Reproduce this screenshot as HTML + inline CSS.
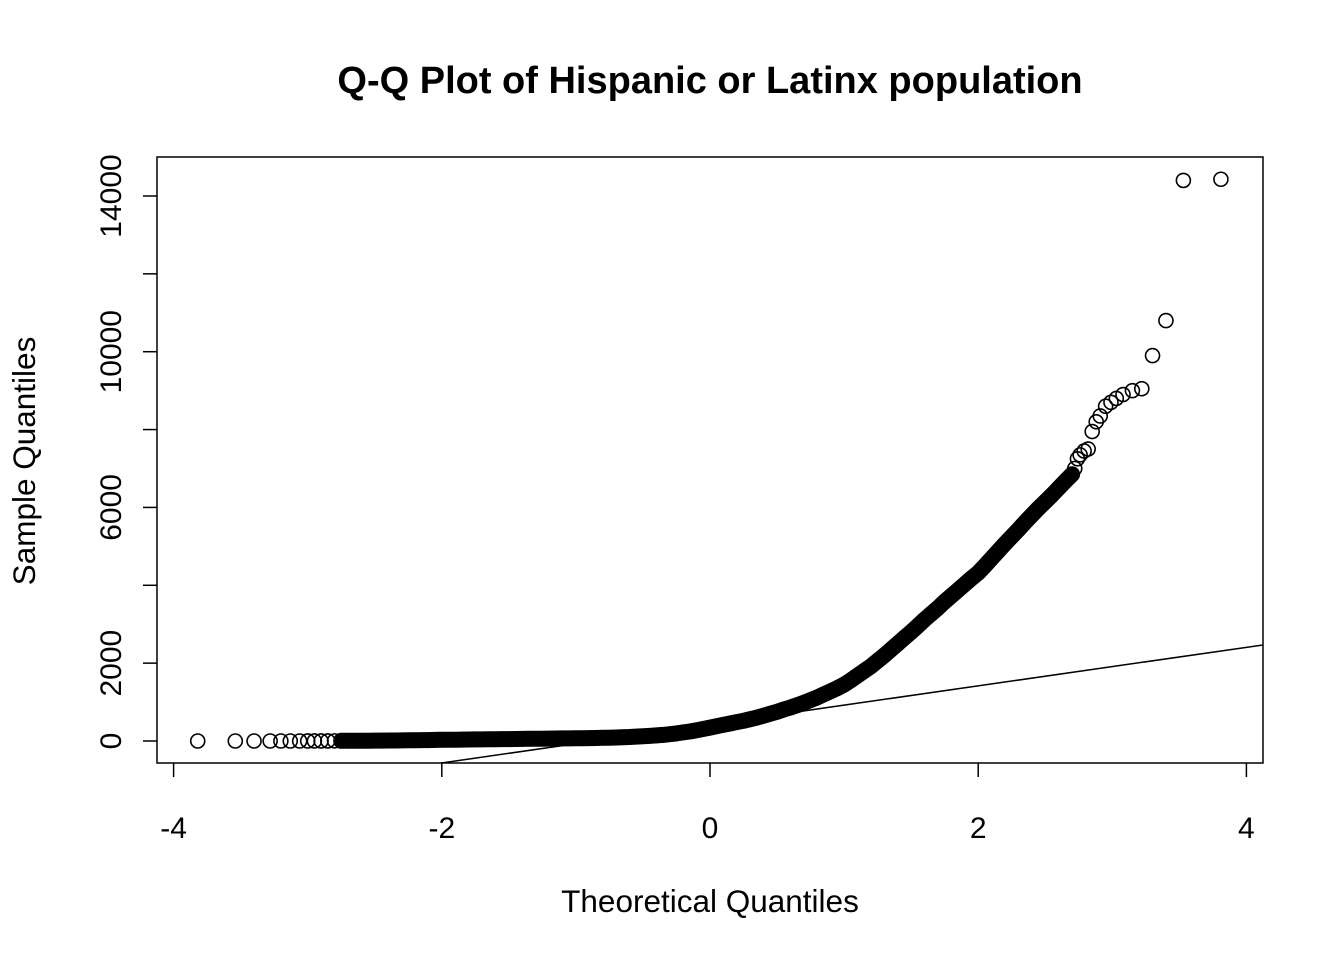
<!DOCTYPE html>
<html><head><meta charset="utf-8"><style>
html,body{margin:0;padding:0;background:#fff;}
svg text{font-family:"Liberation Sans",Arial,sans-serif;fill:#000;}
</style></head><body>
<svg id="chart" width="1344" height="960" viewBox="0 0 1344 960" xmlns="http://www.w3.org/2000/svg">
<rect width="1344" height="960" fill="#fff"/>
<text x="710" y="93" font-size="38" font-weight="bold" text-anchor="middle">Q-Q Plot of Hispanic or Latinx population</text>
<text x="710" y="912" font-size="31.5" text-anchor="middle">Theoretical Quantiles</text>
<text transform="translate(35,461) rotate(-90)" font-size="31.5" text-anchor="middle">Sample Quantiles</text>
<defs><clipPath id="clip"><rect x="157" y="157" width="1106" height="606"/></clipPath></defs>
<g id="axes"></g>
<g id="band"></g>
<g id="points"></g>
<g id="refline" clip-path="url(#clip)"></g>
<rect x="157" y="157" width="1106" height="606" fill="none" stroke="#000" stroke-width="1.5"/>
</svg>
<script>
const xTicks = [-4, -2, 0, 2, 4];
const xTickLabels = ["-4", "-2", "0", "2", "4"];
const yTicks = [0, 2000, 4000, 6000, 8000, 10000, 12000, 14000];
const yTickLabels = ["0", "2000", "", "6000", "", "10000", "", "14000"];
const lineIntercept = 426;
const lineSlope = 495;
const theo = [-3.82,-3.54,-3.40,-3.28,-3.20,-3.13,-3.06,-3.00,-2.95,-2.90,
-2.85,-2.80,-2.75,-2.70,-2.65,-2.60,-2.55,-2.50,-2.45,-2.40,-2.35,-2.30,-2.25,-2.20,-2.15,-2.10,-2.05,-2.00,
-1.95,-1.90,-1.85,-1.80,-1.75,-1.70,-1.65,-1.60,-1.55,-1.50,-1.45,-1.40,-1.35,-1.30,-1.25,-1.20,-1.15,-1.10,-1.05,-1.00,
-0.95,-0.90,-0.85,-0.80,-0.75,-0.70,-0.65,-0.60,-0.55,-0.50,-0.45,-0.40,-0.35,-0.30,-0.25,-0.20,-0.15,-0.10,-0.05,0.00,
0.05,0.10,0.15,0.20,0.25,0.30,0.35,0.40,0.45,0.50,0.55,0.60,0.65,0.70,0.75,0.80,0.85,0.90,0.95,1.00,
1.05,1.10,1.15,1.20,1.25,1.30,1.35,1.40,1.45,1.50,1.55,1.60,1.65,1.70,1.75,1.80,1.85,1.90,1.95,2.00,
2.05,2.10,2.15,2.20,2.25,2.30,2.35,2.40,2.45,2.50,2.55,2.60,2.65,2.70,
2.72,2.74,2.76,2.79,2.82,2.85,2.88,2.91,2.95,2.99,3.03,3.08,3.15,3.22,3.30,3.40,3.53,3.81];
const samp = [0,0,0,0,0,0,0,1,1,1,
2,3,4,5,6,7,8,9,10,12,14,16,18,20,22,24,27,30,
32,34,36,38,40,42,44,46,48,50,52,54,56,58,60,62,64,66,68,70,
72,75,78,82,86,91,97,104,112,121,131,143,157,174,195,220,245,275,310,345,
380,415,450,485,520,560,600,650,700,750,810,860,920,985,1050,1120,1200,1280,1360,1450,
1560,1680,1800,1920,2060,2200,2350,2500,2650,2800,2960,3120,3270,3420,3580,3730,3880,4030,4180,4320,
4500,4690,4880,5070,5250,5430,5620,5800,5980,6150,6320,6500,6680,6850,
7000,7250,7350,7450,7500,7950,8200,8350,8600,8700,8800,8900,9000,9050,9900,10800,14400,14430];
const bandFrom = -2.75;
const bandTo = 2.70;

const NS = "http://www.w3.org/2000/svg";
function xS(v){ return 710 + v * 134.1; }
function yS(v){ return 741 - v * 0.038929; }
function mk(tag, attrs, parent){
  const e = document.createElementNS(NS, tag);
  for (const k in attrs) e.setAttribute(k, attrs[k]);
  parent.appendChild(e);
  return e;
}
const axes = document.getElementById('axes');
xTicks.forEach((t,i)=>{
  const l = mk('line',{x1:xS(t),x2:xS(t),y1:763,y2:777,stroke:'#000','stroke-width':1.5},axes);
  
  
  const tx = mk('text',{x:xS(t),y:838,'font-size':30,'text-anchor':'middle'},axes);
  tx.textContent = xTickLabels[i];
  
  
});
yTicks.forEach((t,i)=>{
  const l = mk('line',{x1:143,x2:157,y1:yS(t),y2:yS(t),stroke:'#000','stroke-width':1.5},axes);
  
  
  if (yTickLabels[i]) {
    const tx = mk('text',{transform:`translate(121,${yS(t)}) rotate(-90)`,'font-size':30,'text-anchor':'middle'},axes);
    tx.textContent = yTickLabels[i];
    
    
  }
});
const bandPts = [];
theo.forEach((t,i)=>{ if (t >= bandFrom - 1e-9 && t <= bandTo + 1e-9) bandPts.push(xS(t).toFixed(1)+','+yS(samp[i]).toFixed(1)); });
const band = mk('polyline',{points:bandPts.join(' '),fill:'none',stroke:'#000','stroke-width':16,'stroke-linejoin':'round','stroke-linecap':'round'},document.getElementById('band'));


const pts = document.getElementById('points');
theo.forEach((t,i)=>{
  const c = mk('circle',{cx:xS(t),cy:yS(samp[i]),r:7,fill:'none',stroke:'#000','stroke-width':1.6},pts);
  
  
});
const rl = mk('line',{x1:xS(-4.2),y1:yS(lineIntercept+lineSlope*-4.2),x2:xS(4.2),y2:yS(lineIntercept+lineSlope*4.2),stroke:'#000','stroke-width':1.5},document.getElementById('refline'));


</script>
</body></html>
